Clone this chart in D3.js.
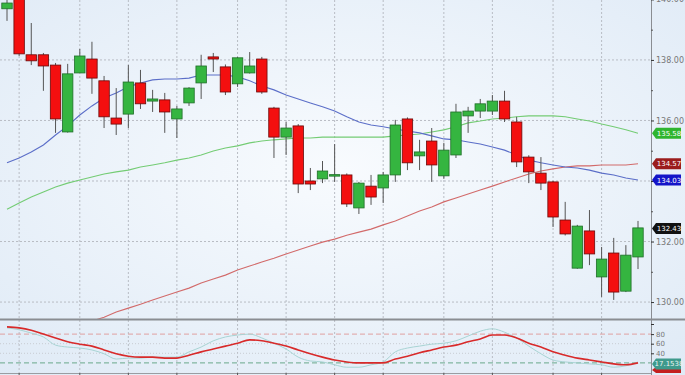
<!DOCTYPE html>
<html>
<head>
<meta charset="utf-8">
<script src="https://cdn.jsdelivr.net/npm/d3@7"></script>
<style>
  body { margin: 0; background: #fff; }
  svg text { font-family: "DejaVu Sans", sans-serif; }
</style>
</head>
<body>
<div id="chart"></div>
<script>
// candles: [open, high, low, close]
var candles = [
  [139.69, 140.00, 139.29, 139.88],
  [140.31, 140.40, 138.13, 138.20],
  [138.17, 139.22, 137.83, 137.97],
  [138.17, 138.23, 136.98, 137.80],
  [137.83, 137.90, 135.59, 136.05],
  [135.62, 137.87, 135.60, 137.54],
  [137.57, 138.36, 137.57, 138.13],
  [138.03, 138.60, 136.88, 137.40],
  [137.31, 137.47, 135.75, 136.12],
  [136.08, 137.07, 135.52, 135.88],
  [136.21, 137.83, 135.75, 137.27],
  [137.24, 137.67, 136.38, 136.55],
  [136.64, 137.01, 136.28, 136.71],
  [136.68, 136.91, 135.59, 136.28],
  [136.05, 136.48, 135.42, 136.38],
  [136.58, 137.10, 136.48, 137.07],
  [137.24, 138.17, 136.71, 137.80],
  [138.10, 138.23, 137.60, 138.03],
  [137.77, 137.85, 136.84, 136.94],
  [137.21, 138.10, 137.11, 138.07],
  [137.57, 138.26, 137.55, 137.80],
  [138.03, 138.10, 136.88, 136.94],
  [136.41, 136.45, 134.76, 135.45],
  [135.45, 135.95, 134.86, 135.75],
  [135.82, 135.88, 133.60, 133.90],
  [134.00, 134.43, 133.70, 133.90],
  [134.07, 134.66, 133.93, 134.33],
  [134.20, 135.22, 133.97, 134.21],
  [134.20, 134.25, 133.14, 133.24],
  [133.11, 133.97, 132.91, 133.93],
  [133.83, 134.20, 133.21, 133.47],
  [133.77, 134.30, 133.27, 134.20],
  [134.20, 136.02, 133.97, 135.85],
  [136.05, 136.10, 134.36, 134.60],
  [134.83, 135.36, 134.36, 134.96],
  [135.32, 135.75, 133.97, 134.53],
  [134.17, 135.26, 134.07, 135.02],
  [134.86, 136.55, 134.76, 136.28],
  [136.15, 136.45, 135.59, 136.31],
  [136.31, 136.71, 136.08, 136.55],
  [136.31, 136.84, 136.18, 136.64],
  [136.64, 136.98, 135.95, 136.05],
  [135.95, 136.12, 134.46, 134.63],
  [134.79, 134.85, 133.93, 134.30],
  [134.26, 134.79, 133.70, 133.93],
  [133.97, 134.00, 132.48, 132.81],
  [132.71, 133.31, 132.20, 132.25],
  [131.12, 132.55, 131.10, 132.51],
  [132.35, 133.04, 131.22, 131.59],
  [130.83, 131.82, 130.17, 131.42],
  [131.62, 132.12, 130.07, 130.33],
  [130.36, 131.88, 130.33, 131.55],
  [131.49, 132.68, 131.09, 132.45]
];

var maBlue = [134.60, 134.76, 134.96, 135.19, 135.52, 135.82, 136.18, 136.48, 136.74, 136.91,
  137.11, 137.24, 137.34, 137.37, 137.37, 137.40, 137.50, 137.50, 137.50, 137.44,
  137.31, 137.14, 137.01, 136.84, 136.71, 136.58, 136.45, 136.31, 136.12, 135.95,
  135.85, 135.79, 135.72, 135.65, 135.59, 135.49, 135.39, 135.36, 135.29, 135.22,
  135.12, 135.02, 134.86, 134.69, 134.60, 134.53, 134.46, 134.43, 134.36, 134.26,
  134.20, 134.10, 134.03];

var maGreen = [133.07, 133.27, 133.47, 133.64, 133.80, 133.93, 134.03, 134.13, 134.23, 134.30,
  134.36, 134.46, 134.53, 134.60, 134.69, 134.76, 134.86, 134.99, 135.09, 135.16,
  135.26, 135.32, 135.36, 135.39, 135.42, 135.42, 135.45, 135.45, 135.45, 135.45,
  135.45, 135.45, 135.49, 135.52, 135.55, 135.62, 135.69, 135.79, 135.92, 135.98,
  136.05, 136.08, 136.12, 136.15, 136.15, 136.15, 136.12, 136.05, 135.98, 135.88,
  135.79, 135.69, 135.58];

var maRed = [null, null, null, null, null, null, null, 129.37, 129.50, 129.67,
  129.80, 129.93, 130.07, 130.20, 130.33, 130.46, 130.63, 130.76, 130.89, 131.06,
  131.19, 131.32, 131.45, 131.59, 131.72, 131.85, 131.98, 132.08, 132.21, 132.31,
  132.41, 132.55, 132.68, 132.84, 133.01, 133.14, 133.31, 133.44, 133.57, 133.70,
  133.83, 133.97, 134.10, 134.23, 134.33, 134.40, 134.46, 134.50, 134.50, 134.53,
  134.53, 134.53, 134.57];

var stochD = [95, 93, 88, 80, 72, 64, 59, 55, 47, 39, 34, 32, 32, 30, 30, 36, 43, 49, 55, 61,
  68, 66, 61, 55, 47, 39, 32, 26, 22, 20, 20, 20, 28, 34, 41, 47, 53, 57, 64, 70,
  78, 78, 72, 61, 53, 43, 36, 30, 26, 22, 18, 16, 20];

var stochK = [93, 89, 82, 74, 57, 53, 51, 47, 39, 28, 30, 30, 32, 32, 32, 43, 53, 66, 74, 78,
  80, 72, 61, 49, 32, 24, 22, 16, 11, 11, 16, 22, 43, 51, 55, 59, 61, 66, 76, 86,
  91, 84, 72, 55, 39, 26, 22, 20, 18, 16, 11, 14, 22];

var gridCandles = [1, 6, 10, 14, 19, 23, 27, 31, 36, 40, 45, 49];
var priceTicks = [130, 132, 134, 136, 138, 140];
var priceLabels = [130, 132, 136, 138, 140];   // 134.00 sits under the blue badge
var priceMinor = [131, 133, 135, 137, 139];
var oscTicks = [40, 60, 80];

var badges = [
  {value: 135.58, label: "135.58", color: "#2fb52f"},
  {value: 134.57, label: "134.57", color: "#9b1c1c"},
  {value: 134.03, label: "134.03", color: "#1414c8"},
  {value: 132.43, label: "132.43", color: "#111111"}
];

var width = 685, height = 375;
var plotRight = 651;
var mainTop = 0, mainBottom = 319;
var oscTop = 320, oscBottom = 373;

var svg = d3.select("#chart").append("svg")
    .attr("width", width)
    .attr("height", height);

var defs = svg.append("defs");
var grad = defs.append("radialGradient")
    .attr("id", "bg")
    .attr("cx", "50%").attr("cy", "45%").attr("r", "75%");
grad.append("stop").attr("offset", "0%").attr("stop-color", "#f8fbfe");
grad.append("stop").attr("offset", "100%").attr("stop-color", "#dfeaf6");

defs.append("clipPath").attr("id", "clipMain")
  .append("rect").attr("x", 0).attr("y", mainTop).attr("width", plotRight).attr("height", mainBottom - mainTop);
defs.append("clipPath").attr("id", "clipOsc")
  .append("rect").attr("x", 0).attr("y", oscTop).attr("width", plotRight).attr("height", oscBottom - oscTop);

svg.append("rect")
    .attr("width", width)
    .attr("height", height)
    .attr("fill", "url(#bg)");

var x = d3.scalePoint().domain(d3.range(candles.length)).range([7, 638]);
var bodyW = x.step() * 0.86;
var y = d3.scaleLinear().domain([129.44, 139.98]).range([mainBottom, mainTop]);
var yo = d3.scaleLinear().domain([0, 100]).range([372.5, 324.5]);

// grid
var grid = svg.append("g");
grid.selectAll(".hgrid")
    .data(priceTicks)
  .enter().append("line")
    .attr("x1", 0).attr("x2", plotRight)
    .attr("y1", function(d) { return y(d); })
    .attr("y2", function(d) { return y(d); })
    .attr("stroke", "#b8bcc4")
    .attr("stroke-dasharray", "2,2");

grid.selectAll(".vgrid")
    .data(gridCandles)
  .enter().append("line")
    .attr("x1", function(d) { return x(d); })
    .attr("x2", function(d) { return x(d); })
    .attr("y1", mainTop).attr("y2", oscBottom)
    .attr("stroke", "#b8bcc4")
    .attr("stroke-dasharray", "2,2");

// oscillator guide lines
grid.selectAll(".ogrid")
    .data([40, 60])
  .enter().append("line")
    .attr("x1", 0).attr("x2", plotRight)
    .attr("y1", function(d) { return yo(d); })
    .attr("y2", function(d) { return yo(d); })
    .attr("stroke", "#c8ccd2")
    .attr("stroke-dasharray", "1,2");
grid.append("line")
    .attr("x1", 0).attr("x2", plotRight)
    .attr("y1", yo(80)).attr("y2", yo(80))
    .attr("stroke", "#e0a0a0")
    .attr("stroke-dasharray", "5,3");
grid.append("line")
    .attr("x1", 0).attr("x2", plotRight)
    .attr("y1", yo(20)).attr("y2", yo(20))
    .attr("stroke", "#6aa88a")
    .attr("stroke-dasharray", "5,3");

// moving averages
var main = svg.append("g").attr("clip-path", "url(#clipMain)");
var maLine = d3.line()
    .defined(function(d) { return d != null; })
    .x(function(d, i) { return x(i); })
    .y(function(d) { return y(d); });

[[maRed, "#d26a6a"], [maGreen, "#74cc74"], [maBlue, "#5b6ec8"]].forEach(function(s) {
  main.append("path")
      .attr("d", maLine(s[0]))
      .attr("fill", "none")
      .attr("stroke", s[1])
      .attr("stroke-width", 1.1);
});

// candles
var c = main.selectAll(".candle")
    .data(candles)
  .enter().append("g")
    .attr("class", "candle");

c.append("line")
    .attr("x1", function(d, i) { return x(i); })
    .attr("x2", function(d, i) { return x(i); })
    .attr("y1", function(d) { return y(d[1]); })
    .attr("y2", function(d) { return y(d[2]); })
    .attr("stroke", "#555")
    .attr("stroke-width", 1);

c.append("rect")
    .attr("x", function(d, i) { return x(i) - bodyW / 2; })
    .attr("width", bodyW)
    .attr("y", function(d) { return y(Math.max(d[0], d[3])); })
    .attr("height", function(d) { return Math.max(1.5, Math.abs(y(d[0]) - y(d[3]))); })
    .attr("fill", function(d) { return d[3] >= d[0] ? "#35b540" : "#f40f0f"; })
    .attr("stroke", function(d) { return d[3] >= d[0] ? "#1f6e28" : "#6a0a0a"; })
    .attr("stroke-width", 0.8);

// oscillator
var osc = svg.append("g").attr("clip-path", "url(#clipOsc)");
var oLine = d3.line()
    .x(function(d, i) { return x(i); })
    .y(function(d) { return yo(d); })
    .curve(d3.curveMonotoneX);
osc.append("path")
    .attr("d", oLine(stochK))
    .attr("fill", "none")
    .attr("stroke", "#a8d4d4")
    .attr("stroke-width", 1);
osc.append("path")
    .attr("d", oLine(stochD))
    .attr("fill", "none")
    .attr("stroke", "#d82a2a")
    .attr("stroke-width", 1.6);

// frame lines
svg.append("line")
    .attr("x1", 0).attr("x2", width)
    .attr("y1", mainBottom + 0.5).attr("y2", mainBottom + 0.5)
    .attr("stroke", "#8a8d92").attr("stroke-width", 2);
svg.append("line")
    .attr("x1", 0).attr("x2", plotRight)
    .attr("y1", oscBottom + 0.5).attr("y2", oscBottom + 0.5)
    .attr("stroke", "#9a9da2").attr("stroke-width", 1);
svg.append("line")
    .attr("x1", plotRight + 0.5).attr("x2", plotRight + 0.5)
    .attr("y1", 0).attr("y2", height)
    .attr("stroke", "#8a8d92").attr("stroke-width", 1);

// right price axis
var ya = svg.append("g")
    .attr("transform", "translate(" + plotRight + ",0)")
    .call(d3.axisRight(y).tickValues(priceTicks).tickSize(3).tickFormat(""));
ya.select(".domain").remove();
ya.selectAll("line").attr("stroke", "#333");

var yl = svg.append("g")
    .attr("transform", "translate(" + plotRight + ",0)")
    .call(d3.axisRight(y).tickValues(priceLabels).tickSize(0).tickFormat(d3.format(".2f")));
yl.select(".domain").remove();
yl.selectAll("text").attr("fill", "#777").attr("font-size", 8).attr("x", 5);

var ym = svg.append("g")
    .attr("transform", "translate(" + plotRight + ",0)")
    .call(d3.axisRight(y).tickValues(priceMinor).tickSize(2).tickFormat(""));
ym.select(".domain").remove();
ym.selectAll("line").attr("stroke", "#555");

// oscillator axis
var oa = svg.append("g")
    .attr("transform", "translate(" + plotRight + ",0)")
    .call(d3.axisRight(yo).tickValues(oscTicks).tickSize(3));
oa.select(".domain").remove();
oa.selectAll("line").attr("stroke", "#333");
oa.selectAll("text").attr("fill", "#777").attr("font-size", 7).attr("x", 5);
svg.append("line")
    .attr("x1", plotRight).attr("x2", plotRight + 3)
    .attr("y1", yo(100)).attr("y2", yo(100))
    .attr("stroke", "#333");

// bottom ticks
svg.selectAll(".xtick")
    .data(gridCandles)
  .enter().append("line")
    .attr("x1", function(d) { return x(d); })
    .attr("x2", function(d) { return x(d); })
    .attr("y1", oscBottom).attr("y2", height)
    .attr("stroke", "#555");

// price badges
function badgePath(y0, h) {
  var x0 = plotRight + 1, w = 29;
  return "M" + x0 + "," + y0 + "L" + (x0 + 4) + "," + (y0 - h / 2) + "L" + (x0 + w) + "," + (y0 - h / 2) +
    "L" + (x0 + w) + "," + (y0 + h / 2) + "L" + (x0 + 4) + "," + (y0 + h / 2) + "Z";
}
var b = svg.selectAll(".badge")
    .data(badges)
  .enter().append("g");
b.append("path")
    .attr("d", function(d) { return badgePath(y(d.value), 11); })
    .attr("fill", function(d) { return d.color; });
b.append("text")
    .attr("x", plotRight + 18)
    .attr("y", function(d) { return y(d.value) + 2.5; })
    .attr("text-anchor", "middle")
    .attr("fill", "#fff")
    .attr("font-size", 7)
    .text(function(d) { return d.label; });

// oscillator badges
svg.append("path")
    .attr("d", badgePath(yo(stochD[stochD.length - 1]) + 7, 6))
    .attr("fill", "#c41f1f");
svg.append("path")
    .attr("d", badgePath(yo(stochD[stochD.length - 1]) + 1, 11))
    .attr("fill", "#3f9a8c");
svg.append("text")
    .attr("x", plotRight + 18)
    .attr("y", yo(stochD[stochD.length - 1]) + 3.5)
    .attr("text-anchor", "middle")
    .attr("fill", "#e8f4f2")
    .attr("font-size", 7)
    .text("17.1538");
</script>
</body>
</html>
